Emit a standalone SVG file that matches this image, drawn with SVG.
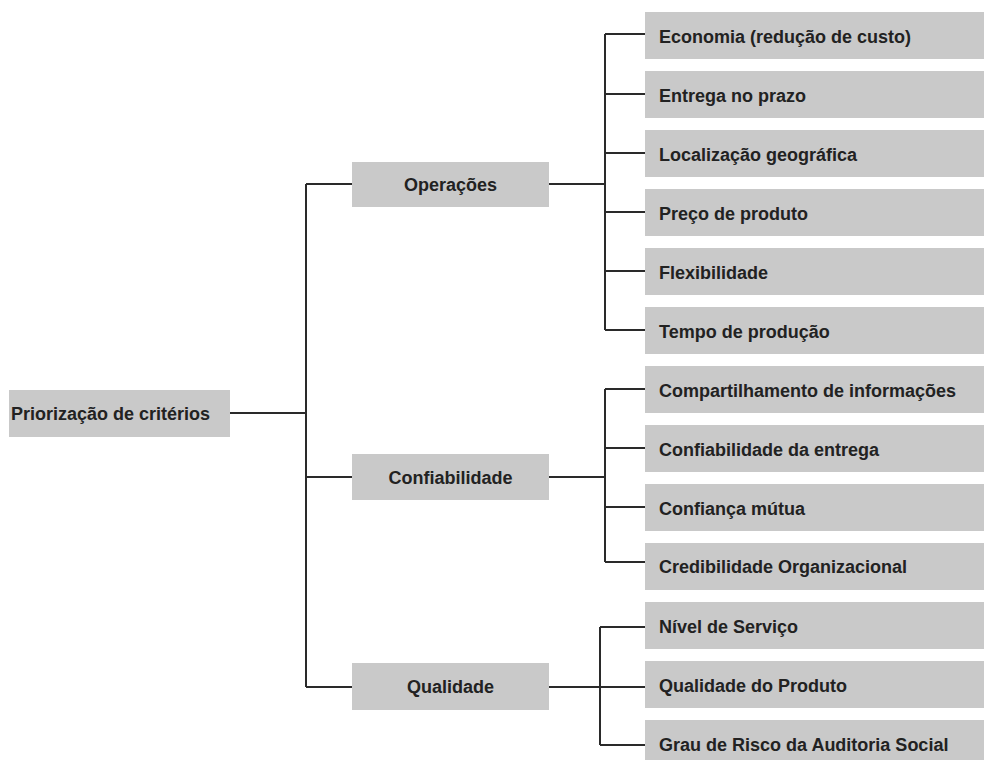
<svg xmlns="http://www.w3.org/2000/svg" width="984" height="760" viewBox="0 0 984 760">
<style>
.box{fill:#c9c9c9}
.t{font-family:"Liberation Sans",Arial,sans-serif;font-weight:bold;font-size:18px;fill:#222}
.c{text-anchor:middle}
.ln{stroke:#2a2a2a;stroke-width:2;fill:none}
</style>
<rect width="984" height="760" fill="#fff"/>
<g id="connectors" class="ln">
<path d="M230 413H306M306 184V687M306 184H352M306 477H352M306 687H352"/>
<path d="M549 184H605M605 34V330M605 34H645M605 94H645M605 153H645M605 212H645M605 271H645M605 330H645"/>
<path d="M549 477H605M605 389V562M605 389H645M605 448H645M605 507H645M605 562H645"/>
<path d="M549 687H645M600 627V745M600 627H645M600 745H645"/>
</g>
<g id="root"><rect class="box" x="9" y="390" width="221" height="47"/><text class="t" x="11" y="420">Priorização de critérios</text></g>
<g id="operacoes"><rect class="box" x="352" y="162" width="197" height="45"/><text class="t c" x="450.5" y="191">Operações</text></g>
<g id="confiabilidade"><rect class="box" x="352" y="454" width="197" height="46"/><text class="t c" x="450.5" y="484">Confiabilidade</text></g>
<g id="qualidade"><rect class="box" x="352" y="663" width="197" height="47"/><text class="t c" x="450.5" y="693">Qualidade</text></g>
<g id="l1"><rect class="box" x="645" y="12" width="339" height="47"/><text class="t" x="659" y="43">Economia (redução de custo)</text></g>
<g id="l2"><rect class="box" x="645" y="71" width="339" height="47"/><text class="t" x="659" y="102">Entrega no prazo</text></g>
<g id="l3"><rect class="box" x="645" y="130" width="339" height="47"/><text class="t" x="659" y="161">Localização geográfica</text></g>
<g id="l4"><rect class="box" x="645" y="189" width="339" height="47"/><text class="t" x="659" y="220">Preço de produto</text></g>
<g id="l5"><rect class="box" x="645" y="248" width="339" height="47"/><text class="t" x="659" y="279">Flexibilidade</text></g>
<g id="l6"><rect class="box" x="645" y="307" width="339" height="47"/><text class="t" x="659" y="338">Tempo de produção</text></g>
<g id="l7"><rect class="box" x="645" y="366" width="339" height="47"/><text class="t" x="659" y="397">Compartilhamento de informações</text></g>
<g id="l8"><rect class="box" x="645" y="425" width="339" height="47"/><text class="t" x="659" y="456">Confiabilidade da entrega</text></g>
<g id="l9"><rect class="box" x="645" y="484" width="339" height="47"/><text class="t" x="659" y="515">Confiança mútua</text></g>
<g id="l10"><rect class="box" x="645" y="543" width="339" height="47"/><text class="t" x="659" y="573">Credibilidade Organizacional</text></g>
<g id="l11"><rect class="box" x="645" y="602" width="339" height="47"/><text class="t" x="659" y="633">Nível de Serviço</text></g>
<g id="l12"><rect class="box" x="645" y="661" width="339" height="47"/><text class="t" x="659" y="692">Qualidade do Produto</text></g>
<g id="l13"><rect class="box" x="645" y="720" width="339" height="47"/><text class="t" x="659" y="751">Grau de Risco da Auditoria Social</text></g>
</svg>
